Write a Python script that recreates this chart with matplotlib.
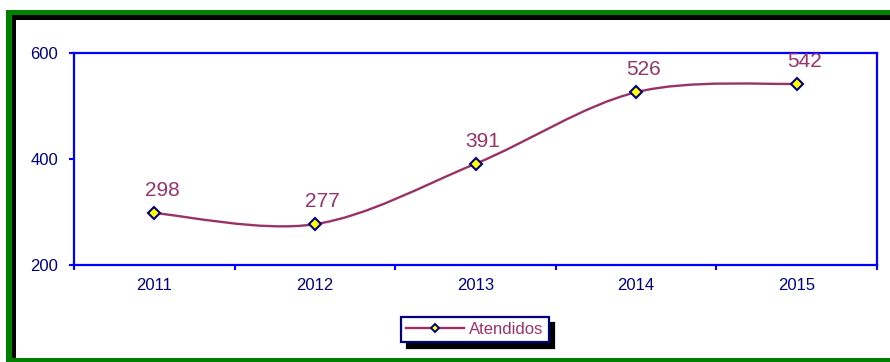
import numpy as np
import matplotlib
matplotlib.use("Agg")
from matplotlib import pyplot as plt
from matplotlib.patches import Rectangle, PathPatch
from matplotlib.path import Path
from matplotlib.lines import Line2D

plt.rcParams['font.family'] = ['Liberation Sans', 'DejaVu Sans']

years = ['2011', '2012', '2013', '2014', '2015']
atendidos = [298, 277, 391, 526, 542]
yticks = [200, 400, 600]

W, H = 890, 362
plum = '#993366'
navy = '#000080'
blue = '#0000ff'

fig = plt.figure(figsize=(W/100, H/100), dpi=100)

# frame: green border with black inner shadow (pixel coords from top-left)
def px_rect(x0, y0, x1, y1, color):
    fig.patches.append(Rectangle((x0/W, 1-y1/H), (x1-x0)/W, (y1-y0)/H,
                                 transform=fig.transFigure, facecolor=color,
                                 edgecolor='none', zorder=-3))
px_rect(6, 10, W+10, H+10, '#008000')
px_rect(12, 15, W+10, 358, 'black')
px_rect(16, 20, W+10, 358, 'white')

ax = fig.add_axes([74/W, 1-265/H, (877-74)/W, (265-53)/H])
ax.set_facecolor('none')

x = np.arange(len(years))
y = np.array(atendidos, dtype=float)

# smoothed line (Catmull-Rom style bezier, like the spreadsheet's smoothing)
pts = np.column_stack([x, y])
verts = [pts[0]]
codes = [Path.MOVETO]
for i in range(len(pts)-1):
    p0 = pts[max(i-1, 0)]
    p1 = pts[i]
    p2 = pts[i+1]
    p3 = pts[min(i+2, len(pts)-1)]
    verts += [p1 + (p2-p0)/6, p2 - (p3-p1)/6, p2]
    codes += [Path.CURVE4]*3
ax.add_patch(PathPatch(Path(verts, codes), facecolor='none', edgecolor=plum, lw=1.7, zorder=2))
ax.plot(x, y, ls='none', marker='D', ms=6, mfc='#ffff00', mec=navy, mew=1.5, zorder=3)

for xi, yi in zip(x, atendidos):
    ax.annotate(str(yi), (xi, yi), xytext=(5.5, 12.3), textcoords='offset points',
                ha='center', va='baseline', fontsize=15, color=plum)

ax.set_xlim(-0.5, len(years)-0.5)
ax.set_ylim(200, 600)
ax.set_yticks(yticks)
ax.set_yticklabels([str(v) for v in yticks])
ax.set_xticks(np.arange(len(years)+1)-0.5)
ax.set_xticklabels([])
ax.set_xticks(x, minor=True)
ax.set_xticklabels(years, minor=True)
ax.tick_params(axis='x', which='major', length=3.6, width=1.5, color=blue, direction='out')
ax.tick_params(axis='x', which='minor', length=0, pad=9, labelsize=12, labelcolor=navy)
ax.tick_params(axis='y', length=3.6, width=1.5, color=blue, direction='out', pad=8,
               labelsize=12, labelcolor=navy)
for s in ax.spines.values():
    s.set_color(blue)
    s.set_linewidth(1.6)

h = Line2D([], [], color=plum, lw=1.7, marker='D', ms=4.5, mfc='#ffff00', mec=navy, mew=1.4)
leg = fig.legend([h], ['Atendidos'], loc='upper left', bbox_to_anchor=(401/W, 1-317/H),
                 bbox_transform=fig.transFigure, frameon=True, fancybox=False,
                 fontsize=12, labelcolor=plum, handlelength=3.5, handletextpad=0.3,
                 borderpad=0.3, borderaxespad=0, numpoints=1,
                 shadow={'ox': 4, 'oy': -4.5, 'color': 'black', 'alpha': 1})
leg.get_frame().set_edgecolor(navy)
leg.get_frame().set_linewidth(1.6)

fig.savefig('out.png', dpi=100)
